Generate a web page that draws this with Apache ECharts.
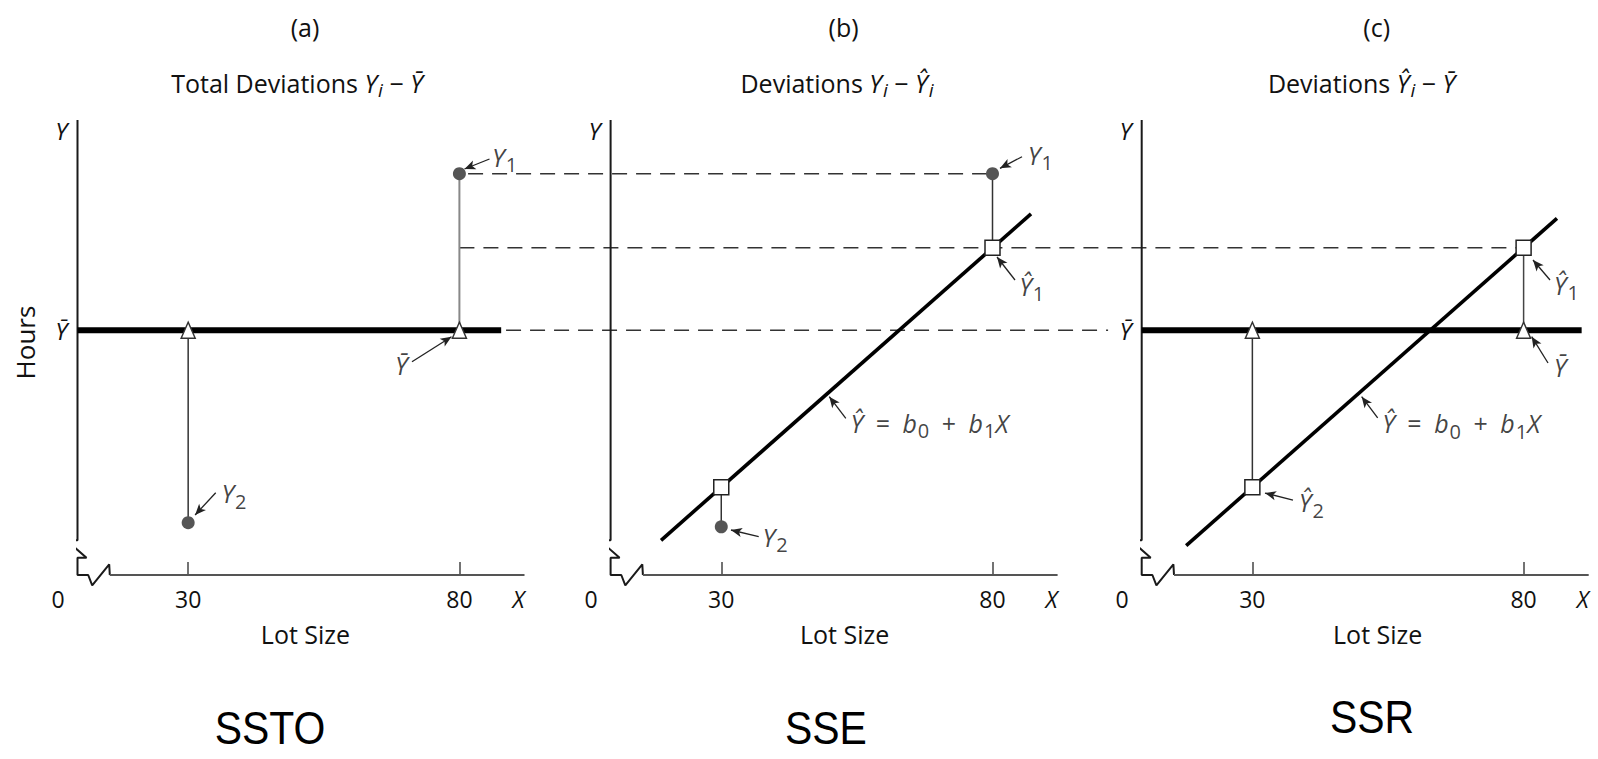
<!DOCTYPE html>
<html><head><meta charset="utf-8">
<script src="https://cdn.jsdelivr.net/npm/echarts@6/dist/echarts.min.js"></script>
<style>html,body{margin:0;padding:0;background:#fff}#c{width:1598px;height:759px}</style>
</head><body><div id="c"></div>
<script>
// ---------------- data ----------------
const panelLetters = ['(a)', '(b)', '(c)'];
const panelTitles = [
  'Total Deviations {it|Y}{si|i}{n| − }{it|Ȳ}',
  'Deviations {it|Y}{si|i}{n| − }{it|Ŷ}{si|i}',
  'Deviations {it|Ŷ}{si|i}{n| − }{it|Ȳ}'
];
const sumLabels = ['SSTO', 'SSE', 'SSR'];
const xLabelValues = [9.6, 30, 80, 92];
const xTickLabels = ['0', '30', '80', 'X'];
const xTickValues = [30, 80];
const yLabelValuesAC = [53.8, 97.6];
const yTickLabelsAC = ['Ȳ', 'Y'];
const yLabelValuesB = [97.6];
const yTickLabelsB = ['Y'];
const lotSize = [30, 80];          // X2, X1
const meanHours = 53.8;            // Ȳ
const observedA = [11.5, 88.2];    // Y2, Y1 in panel (a)
const observedB = [10.6, 88.2];    // Y2, Y1 in panel (b)
const fittedHours = [19.3, 71.9];  // Ŷ2, Ŷ1
const meanSpanA = [9.6, 87.7];
const meanSpanC = [9.6, 90.7];
const fitSpanB = [18.9, 87.1];
const fitSpanC = [17.8, 86.15];
const eqText = '{it|Ŷ}{op| = }{it|b}{sub|0}{op| + }{it|b}{sub|1}{it|X}';
const annotA = [
  {t: '{it|Y}{sub|1}', at: [85.92, 91.87], tail: [85.55, 91.43], head: [80.94, 89.23]},
  {t: '{it|Ȳ}', at: [68.03, 46.15], tail: [71.26, 46.88], head: [78.54, 52.37]},
  {t: '{it|Y}{sub|2}', at: [36.03, 18.02], tail: [35.08, 18.09], head: [31.28, 13.19]}
];
const annotB = [
  {t: '{it|Y}{sub|1}', at: [86.41, 92.31], tail: [85.44, 91.93], head: [81.38, 89.38]},
  {t: '{it|Ŷ}{sub|1}', at: [84.83, 63.52], tail: [84.15, 64.84], head: [80.83, 69.89]},
  {t: eqText, at: [53.73, 33.41], tail: [52.96, 34.44], head: [49.91, 39.19]},
  {t: '{it|Y}{sub|2}', at: [37.53, 8.42], tail: [36.9, 8.42], head: [31.79, 9.89]}
];
const annotC = [
  {t: '{it|Ŷ}{sub|1}', at: [85.47, 63.74], tail: [84.87, 64.84], head: [81.73, 69.23]},
  {t: '{it|Ȳ}', at: [85.47, 45.78], tail: [84.5, 46.59], head: [81.49, 52.37]},
  {t: eqText, at: [53.84, 33.34], tail: [53.1, 34.51], head: [50.15, 39.19]},
  {t: '{it|Ŷ}{sub|2}', at: [38.47, 16.04], tail: [37.49, 16.48], head: [32.33, 18.02]}
];

// ---------------- layout ----------------
const FONT = 'Open Sans';
const GRID_TOP = 120, GRID_H = 455, GRID_W = 447;
const GRID_LEFT = [77.5, 610.6, 1141.7];
const X_MIN = 9.6, X_MAX = 92, Y_MIN = 0, Y_MAX = 100;
const PXU = GRID_W / (X_MAX - X_MIN);
const PYU = GRID_H / (Y_MAX - Y_MIN);
const shift = GRID_LEFT.map(l => (l - GRID_LEFT[0]) / PXU);
const OVER_W = GRID_LEFT[2] + GRID_W - GRID_LEFT[0];
const lotNamePad = [9, 21, 25];

const fit = x => fittedHours[0] + (x - lotSize[0]) * (fittedHours[1] - fittedHours[0]) / (lotSize[1] - lotSize[0]);

// axis break shape (pixel offsets from the origin corner)
const breakPx = [[0, -GRID_H], [0, -34.7], [-11, -34.7], [9, -17.3], [0, -17.3], [0, 0], [10.7, 0], [14.7, 10.3], [31.7, -10.7], [32.3, 0]];
const breakPath = breakPx.map(p => [X_MIN + p[0] / PXU, Y_MIN - p[1] / PYU]);
const xAxisStart = breakPath[breakPath.length - 1][0];

const mathRich = {
  it: {fontFamily: FONT, fontStyle: 'italic', fontSize: 25, color: '#111'},
  sub: {fontFamily: FONT, fontSize: 20, color: '#111', padding: [16, 0, 0, 1]},
  op: {fontFamily: FONT, fontSize: 25, color: '#111', padding: [0, 6, 0, 6]},
  n: {fontFamily: FONT, fontSize: 25, color: '#111'}
};

function near(arr, v) { let k = 0; arr.forEach((a, i) => { if (Math.abs(a - v) < Math.abs(arr[k] - v)) k = i; }); return k; }

const grids = [], xAxes = [], yAxes = [], series = [];
for (let i = 0; i < 3; i++) {
  grids.push({left: GRID_LEFT[i], top: GRID_TOP, width: GRID_W, height: GRID_H, outerBoundsMode: 'none', containLabel: false});
  xAxes.push({
    gridIndex: i, type: 'value', min: X_MIN, max: X_MAX,
    axisLine: {show: false}, splitLine: {show: false},
    axisTick: {show: true, customValues: xTickValues, inside: true, length: 13, lineStyle: {color: '#444', width: 1.5}},
    axisLabel: {
      customValues: xLabelValues, margin: 12, color: '#111', fontFamily: FONT, fontSize: 23,
      formatter: v => {
        const k = near(xLabelValues, v);
        if (k === 0) return '{o|' + xTickLabels[k] + '}';
        if (k === xLabelValues.length - 1) return '{x|' + xTickLabels[k] + '}';
        return '{d|' + xTickLabels[k] + '}';
      },
      rich: {
        o: {fontFamily: FONT, fontSize: 23, color: '#111', padding: [0, 39, 0, 0]},
        x: {fontFamily: FONT, fontSize: 23, fontStyle: 'italic', color: '#111', padding: [0, 12, 0, 0]},
        d: {fontFamily: FONT, fontSize: 23, color: '#111'}
      }
    },
    name: 'Lot Size', nameLocation: 'middle', nameGap: 46,
    nameTextStyle: {fontFamily: FONT, fontSize: 25, color: '#111', padding: [0, 0, 0, lotNamePad[i]]}
  });
  const yv = i === 1 ? yLabelValuesB : yLabelValuesAC;
  const yl = i === 1 ? yTickLabelsB : yTickLabelsAC;
  yAxes.push({
    gridIndex: i, type: 'value', min: Y_MIN, max: Y_MAX,
    axisLine: {show: false}, axisTick: {show: false}, splitLine: {show: false},
    axisLabel: {
      customValues: yv, margin: 10,
      formatter: v => '{it|' + yl[near(yv, v)] + '}',
      rich: {it: {fontFamily: FONT, fontStyle: 'italic', fontSize: 24, color: '#111'}}
    },
    name: i === 0 ? 'Hours' : '', nameLocation: 'middle', nameGap: 40,
    nameTextStyle: {fontFamily: FONT, fontSize: 26, color: '#111', padding: [0, 0, 0, 10]}
  });
  // axes drawn with break
  series.push(lineSeries(i, breakPath, '#1a1a1a', 2, 3));
  series.push(lineSeries(i, [[xAxisStart, Y_MIN], [X_MAX, Y_MIN]], '#555', 2.2, 3));
}
// overlay grid for dashed cross-panel guides
grids.push({left: GRID_LEFT[0], top: GRID_TOP, width: OVER_W, height: GRID_H, outerBoundsMode: 'none', containLabel: false});
xAxes.push({gridIndex: 3, type: 'value', min: X_MIN, max: X_MIN + OVER_W / PXU, show: false});
yAxes.push({gridIndex: 3, type: 'value', min: Y_MIN, max: Y_MAX, show: false});

function lineSeries(g, data, color, width, z, dash) {
  return {
    type: 'line', xAxisIndex: g, yAxisIndex: g, data: data, symbol: 'none', clip: false, silent: true,
    animation: false, z: z, lineStyle: {color: color, width: width, type: dash || 'solid', cap: 'butt'}
  };
}
function pointSeries(g, data, kind) {
  const st = {
    dot: {symbol: 'circle', symbolSize: 13, itemStyle: {color: '#555', opacity: 1}},
    tri: {symbol: 'triangle', symbolSize: [14, 16], itemStyle: {color: '#fff', borderColor: '#333', borderWidth: 1.5, opacity: 1}},
    sq: {symbol: 'rect', symbolSize: 15, itemStyle: {color: '#fff', borderColor: '#222', borderWidth: 1.5, opacity: 1}}
  }[kind];
  return Object.assign({type: 'scatter', xAxisIndex: g, yAxisIndex: g, data: data, silent: true, animation: false, z: 6}, st);
}
function annotSeries(g, list) {
  return {
    type: 'scatter', xAxisIndex: g, yAxisIndex: g, silent: true, animation: false, z: 7,
    symbolSize: 1, itemStyle: {color: 'rgba(0,0,0,0)'},
    data: list.map(a => ({value: a.at, label: {show: true, position: 'right', distance: 0, formatter: a.t, rich: mathRich}})),
    markLine: {
      silent: true, animation: false, symbolSize: [7, 11],
      label: {show: false}, lineStyle: {type: 'solid', color: '#222', width: 1.3},
      data: list.map(a => [{coord: a.tail, symbol: 'none'}, {coord: a.head, symbol: 'arrow'}])
    }
  };
}

const DASH = [15, 9];
// dashed guides (overlay coordinates = panel (a) coordinates)
series.push(lineSeries(3, [[lotSize[1] + 1.6, observedA[1]], [lotSize[1] + shift[1], observedA[1]]], '#333', 1.5, 1, DASH));
series.push(lineSeries(3, [[lotSize[1], fittedHours[1]], [lotSize[1] + shift[2] - 1.3, fittedHours[1]]], '#333', 1.5, 1, DASH));
series.push(lineSeries(3, [[meanSpanA[1] + 0.9, meanHours], [X_MIN + shift[2] - 6.2, meanHours]], '#333', 1.5, 1, DASH));

// panel (a)
series.push(lineSeries(0, [[meanSpanA[0], meanHours], [meanSpanA[1], meanHours]], '#000', 6, 4));
series.push(lineSeries(0, [[lotSize[1], observedA[1]], [lotSize[1], meanHours]], '#888', 2, 4));
series.push(lineSeries(0, [[lotSize[0], meanHours], [lotSize[0], observedA[0]]], '#333', 1.5, 4));
series.push(pointSeries(0, [[lotSize[0], meanHours], [lotSize[1], meanHours]], 'tri'));
series.push(pointSeries(0, [[lotSize[0], observedA[0]], [lotSize[1], observedA[1]]], 'dot'));
series.push(annotSeries(0, annotA));

// panel (b)
series.push(lineSeries(1, fitSpanB.map(x => [x, fit(x)]), '#000', 3.6, 4));
series.push(lineSeries(1, [[lotSize[1], observedB[1]], [lotSize[1], fittedHours[1]]], '#333', 1.5, 4));
series.push(lineSeries(1, [[lotSize[0], fittedHours[0]], [lotSize[0], observedB[0]]], '#333', 1.5, 4));
series.push(pointSeries(1, [[lotSize[0], fittedHours[0]], [lotSize[1], fittedHours[1]]], 'sq'));
series.push(pointSeries(1, [[lotSize[0], observedB[0]], [lotSize[1], observedB[1]]], 'dot'));
series.push(annotSeries(1, annotB));

// panel (c)
series.push(lineSeries(2, [[meanSpanC[0], meanHours], [meanSpanC[1], meanHours]], '#000', 6, 4));
series.push(lineSeries(2, fitSpanC.map(x => [x, fit(x)]), '#000', 3.6, 4));
series.push(lineSeries(2, [[lotSize[1], fittedHours[1]], [lotSize[1], meanHours]], '#444', 1.5, 4));
series.push(lineSeries(2, [[lotSize[0], meanHours], [lotSize[0], fittedHours[0]]], '#333', 1.5, 4));
series.push(pointSeries(2, [[lotSize[0], meanHours], [lotSize[1], meanHours]], 'tri'));
series.push(pointSeries(2, [[lotSize[0], fittedHours[0]], [lotSize[1], fittedHours[1]]], 'sq'));
series.push(annotSeries(2, annotC));

// text headings
const letterX = [305, 843.6, 1376.7];
const titleX = [297, 837, 1361.5];
const sumX = [270, 825.8, 1372];
const sumY = [727, 727, 716];
const richZ = {
  it: {fontFamily: FONT, fontStyle: 'italic', fontSize: 25, fill: '#111'},
  si: {fontFamily: FONT, fontStyle: 'italic', fontSize: 19, fill: '#111', padding: [14, 0, 0, 1]},
  n: {fontFamily: FONT, fontSize: 25, fill: '#111'}
};
const graphic = [];
for (let i = 0; i < 3; i++) {
  graphic.push({type: 'text', x: letterX[i], y: 27, silent: true,
    style: {text: panelLetters[i], fontFamily: FONT, fontSize: 25, fill: '#111', align: 'center', verticalAlign: 'middle'}});
  graphic.push({type: 'text', x: titleX[i], y: 83, silent: true,
    style: {text: panelTitles[i], rich: richZ, fontFamily: FONT, fontSize: 25, fill: '#111', align: 'center', verticalAlign: 'middle'}});
  graphic.push({type: 'text', x: sumX[i], y: sumY[i], scaleX: 0.87, silent: true,
    style: {text: sumLabels[i], fontFamily: 'Liberation Sans', fontSize: 47, lineHeight: 44, fill: '#000', align: 'center', verticalAlign: 'middle'}});
}

const chart = echarts.init(document.getElementById('c'), null, {renderer: 'svg', width: 1598, height: 759});
chart.setOption({
  backgroundColor: '#fff',
  animation: false,
  textStyle: {fontFamily: FONT},
  grid: grids, xAxis: xAxes, yAxis: yAxes, series: series, graphic: graphic
});
</script></body></html>
